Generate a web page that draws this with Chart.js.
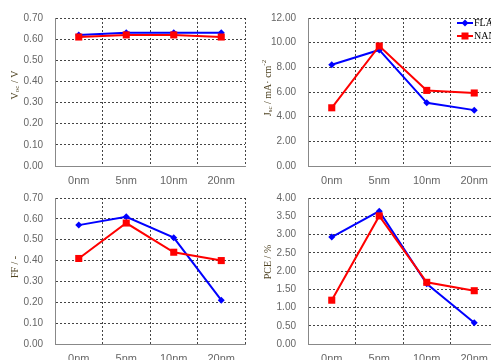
<!DOCTYPE html>
<html>
<head>
<meta charset="utf-8">
<script src="https://cdn.jsdelivr.net/npm/chart.js@4/dist/chart.umd.min.js"></script>
<style>
  html, body { margin:0; padding:0; background:#fff; }
  body { width:491px; height:360px; overflow:hidden; position:relative; }
  canvas { position:absolute; }
</style>
</head>
<body>
<canvas id="c-voc" width="250" height="190" style="left:0;top:0"></canvas>
<canvas id="c-jsc" width="250" height="190" style="left:253px;top:0"></canvas>
<canvas id="c-ff" width="250" height="188" style="left:0;top:180px"></canvas>
<canvas id="c-pce" width="250" height="188" style="left:253px;top:180px"></canvas>
<script>
// thickness labels
const categories = ['0nm', '5nm', '10nm', '20nm'];
const seriesNames = ['FLAT', 'NANO'];

// values
const vocFlat = [0.62, 0.63, 0.63, 0.63];
const vocNano = [0.61, 0.62, 0.62, 0.61];
const jscFlat = [8.21, 9.41, 5.12, 4.53];
const jscNano = [4.72, 9.73, 6.13, 5.92];
const ffFlat  = [0.57, 0.61, 0.51, 0.21];
const ffNano  = [0.41, 0.58, 0.44, 0.40];
const pceFlat = [2.93, 3.64, 1.65, 0.58];
const pceNano = [1.20, 3.51, 1.69, 1.46];

// axis ranges: [max, step]
const vocAxis = [0.7, 0.1];
const jscAxis = [12, 2];
const ffAxis  = [0.7, 0.1];
const pceAxis = [4, 0.5];

const BLUE = '#0000ff', RED = '#ff0000';
const TITLE_COLOR = '#4f4322';
const SERIF = '"Liberation Serif", "DejaVu Serif", serif';

// rotated y title with sub/superscripts
const axisTitle = {
  id: 'axisTitle',
  afterDraw(chart, args, opts) {
    if (!opts.parts) return;
    const ctx = chart.ctx, a = chart.chartArea;
    const big = 10, small = 7;
    ctx.save();
    let total = 0;
    opts.parts.forEach(p => {
      ctx.font = (p.sub || p.sup ? small : big) + 'px ' + SERIF;
      p.w = ctx.measureText(p.t).width;
      total += p.w;
    });
    ctx.translate(a.left - 40, (a.top + a.bottom) / 2 + (opts.dy || 0));
    ctx.rotate(-Math.PI / 2);
    ctx.fillStyle = TITLE_COLOR;
    ctx.textBaseline = 'middle';
    let x = -total / 2;
    opts.parts.forEach(p => {
      ctx.font = (p.sub || p.sup ? small : big) + 'px ' + SERIF;
      const dy = p.sub ? 2.5 : (p.sup ? -3.5 : 0);
      ctx.fillText(p.t, x, dy);
      x += p.w;
    });
    ctx.restore();
  }
};

// legend drawn inside the plot, top right
const lineLegend = {
  id: 'lineLegend',
  afterDraw(chart, args, opts) {
    if (!opts.show) return;
    const ctx = chart.ctx, a = chart.chartArea;
    const x0 = a.left + 149, x1 = x0 + 16;
    ctx.save();
    chart.data.datasets.slice().sort((p, q) => p.legendRow - q.legendRow).forEach((ds, i) => {
      const y = a.top + 5 + i * 13;
      ctx.strokeStyle = ds.borderColor; ctx.fillStyle = ds.borderColor;
      ctx.lineWidth = 2;
      ctx.beginPath(); ctx.moveTo(x0, y); ctx.lineTo(x1, y); ctx.stroke();
      const cx = (x0 + x1) / 2;
      ctx.beginPath();
      if (ds.pointStyle === 'rect') {
        ctx.rect(cx - 3.5, y - 3.5, 7, 7);
      } else {
        ctx.moveTo(cx, y - 3.5); ctx.lineTo(cx + 3.5, y); ctx.lineTo(cx, y + 3.5); ctx.lineTo(cx - 3.5, y);
        ctx.closePath();
      }
      ctx.fill();
      ctx.fillStyle = '#000';
      ctx.font = '10px ' + SERIF;
      ctx.textBaseline = 'middle';
      ctx.fillText(ds.label, x1 + 1, y + 0.5);
    });
    ctx.restore();
  }
};

function makeChart(id, flat, nano, axis, titleParts, titleDy, topPad, withLegend) {
  const ctx = document.getElementById(id);
  new Chart(ctx, {
    type: 'line',
    data: {
      labels: categories,
      datasets: [
        {
          label: seriesNames[0], data: flat, legendRow: 0, order: 1,
          borderColor: BLUE, backgroundColor: BLUE, borderWidth: 2,
          pointStyle: 'rectRot', pointRadius: 3.5, pointBorderWidth: 0, tension: 0
        },
        {
          label: seriesNames[1], data: nano, legendRow: 1, order: 0,
          borderColor: RED, backgroundColor: RED, borderWidth: 2,
          pointStyle: 'rect', pointRadius: 5, pointBorderWidth: 0, tension: 0
        }
      ]
    },
    options: {
      responsive: false,
      animation: false,
      devicePixelRatio: 1,
      layout: { padding: { top: topPad, right: 1, left: 0, bottom: 0 } },
      plugins: {
        legend: { display: false },
        tooltip: { enabled: false },
        axisTitle: { parts: titleParts, dy: titleDy },
        lineLegend: { show: withLegend }
      },
      scales: {
        x: {
          type: 'category',
          offset: true,
          grid: { offset: true, color: '#444', drawTicks: false },
          // border.dash dashes the grid lines; the axis line itself stays solid
          border: { display: true, color: '#888', width: 1, dash: [2, 2] },
          ticks: { color: '#666', padding: 8, font: { family: '"Liberation Sans", Arial, sans-serif', size: 11 } },
          afterFit(s) { s.height = 24; }
        },
        y: {
          min: 0, max: axis[0],
          grid: { color: '#444', drawTicks: false },
          border: { display: true, color: '#888', width: 1, dash: [2, 2] },
          ticks: {
            stepSize: axis[1], color: '#666', padding: 12,
            font: { family: '"Liberation Sans", Arial, sans-serif', size: 10 },
            callback: v => Number(v).toFixed(2)
          },
          afterFit(s) { s.width = 55; }
        }
      }
    },
    plugins: [axisTitle, lineLegend]
  });
}

makeChart('c-voc', vocFlat, vocNano, vocAxis,
  [{ t: 'V' }, { t: 'oc', sub: true }, { t: ' / V' }], -7, 16, false);
makeChart('c-jsc', jscFlat, jscNano, jscAxis,
  [{ t: 'J' }, { t: 'sc', sub: true }, { t: ' / mA· cm' }, { t: '-2', sup: true }], -4, 16, true);
makeChart('c-ff', ffFlat, ffNano, ffAxis,
  [{ t: 'FF / -' }], -4, 15, false);
makeChart('c-pce', pceFlat, pceNano, pceAxis,
  [{ t: 'PCE / %' }], -9, 15, false);
</script>
</body>
</html>
